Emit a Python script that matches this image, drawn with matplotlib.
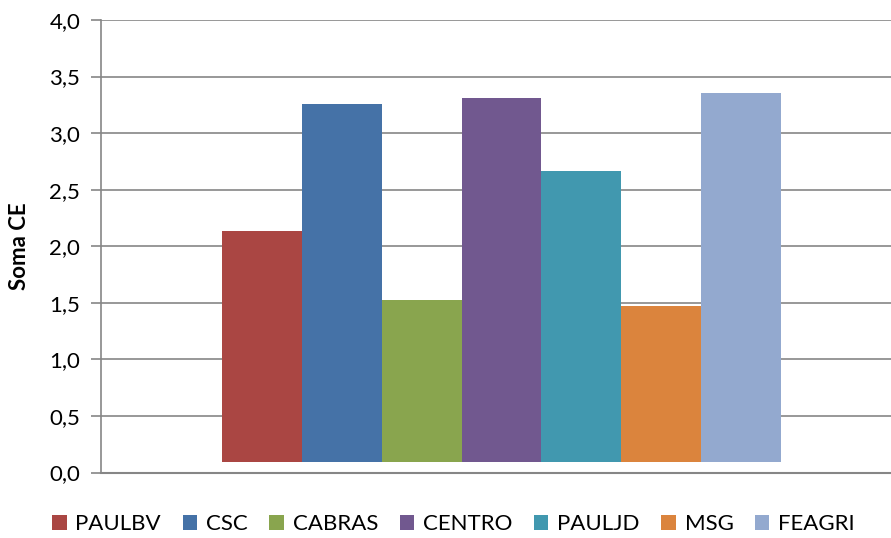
import matplotlib.pyplot as plt
from matplotlib.patches import Patch
from matplotlib.ticker import FuncFormatter

# dados
locais = ['PAULBV', 'CSC', 'CABRAS', 'CENTRO', 'PAULJD', 'MSG', 'FEAGRI']
soma_ce = [2.135, 3.258, 1.525, 3.311, 2.666, 1.472, 3.355]
cores = ['#AA4643', '#4572A7', '#89A54E', '#71588F', '#4198AF', '#DB843D', '#93A9CF']
base = 0.095

plt.rcParams['font.family'] = ['Lato', 'DejaVu Sans']

fig = plt.figure(figsize=(8.91, 5.38), dpi=100)
ax = fig.add_axes([101 / 891, (538 - 472.5) / 538, 1 - 101 / 891, (472.5 - 20) / 538])

for i, (v, c) in enumerate(zip(soma_ce, cores)):
    ax.bar(i, v - base, bottom=base, width=1.0, color=c, zorder=3)

ax.set_xlim(-2.015, 7.877)
ax.set_ylim(0, 4.0)
ax.set_yticks([0, 0.5, 1.0, 1.5, 2.0, 2.5, 3.0, 3.5, 4.0])
ax.yaxis.set_major_formatter(FuncFormatter(lambda v, p: f'{v:.1f}'.replace('.', ',')))
ax.set_xticks([])
ax.grid(axis='y', color='#868686', linewidth=1.2, zorder=0)

for s in ['top', 'right']:
    ax.spines[s].set_visible(False)
ax.spines['left'].set_color('#868686')
ax.spines['left'].set_linewidth(1.2)
ax.spines['bottom'].set_color('#868686')
ax.spines['bottom'].set_linewidth(1.5)
ax.tick_params(axis='y', direction='out', length=7, width=1.2, color='#868686',
               labelsize=16, pad=8)

ax.set_ylabel('Soma CE', fontsize=16, fontweight='bold', labelpad=14)

handles = [Patch(facecolor=c, label=l) for l, c in zip(locais, cores)]
fig.legend(handles=handles, loc='center', bbox_to_anchor=(0.509, (538 - 524) / 538),
           ncol=7, frameon=False, fontsize=16, handlelength=0.65, handleheight=0.65,
           handletextpad=0.4, columnspacing=0.97)

fig.savefig('out.png', dpi=100)
